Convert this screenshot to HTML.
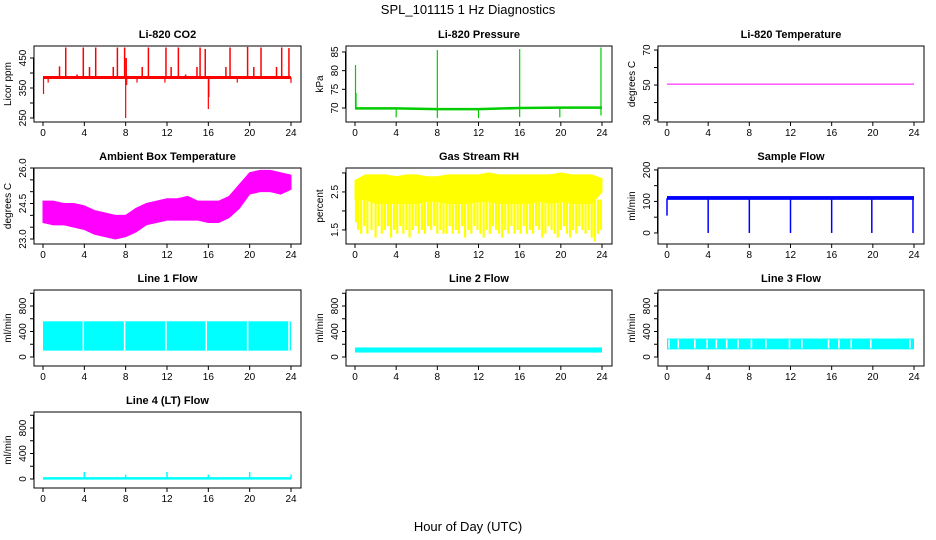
<!DOCTYPE html>
<html><head><meta charset="utf-8"><style>
body{margin:0;background:#fff;}
svg{display:block;font-family:"Liberation Sans",sans-serif;}
</style></head><body>
<svg id="chart" width="936" height="540" viewBox="0 0 936 540" xmlns="http://www.w3.org/2000/svg">
<rect width="936" height="540" fill="#fff"/>
<text x="468" y="14" font-size="13" text-anchor="middle">SPL_101115  1 Hz Diagnostics</text>
<text x="468" y="531" font-size="13" text-anchor="middle">Hour of Day (UTC)</text>
</svg>
<script>
// ---- data ----
const xTicks = [0,4,8,12,16,20,24];
const hours = [0,1,2,3,4,5,6,7,8,9,10,11,12,13,14,15,16,17,18,19,20,21,22,23,24];
// CO2
const co2BaseLow = 380, co2BaseHigh = 390;
const co2SpikeTimes = [2.2,3.9,5.1,7.2,7.9,10.2,11.9,13.1,15.2,15.7,18.1,19.8,21.1,23.1,23.8];
const co2SpikeVals = [485,485,485,485,485,485,485,485,485,480,485,487,485,485,483];
const co2SmallTimes = [1.6,4.5,6.8,8.05,9.6,12.4,14.9,17.7,20.4,22.6,0.1,3.3,13.8];
const co2SmallVals = [422,420,420,450,420,420,420,420,420,420,390,395,395];
const co2DipTimes = [0.05,0.5,8.0,8.1,9.1,11.8,16.0,16.05,18.8,24.0];
const co2DipVals = [330,368,250,360,368,368,280,320,368,367];
// Pressure
const presBaseTimes = [0,4,8,12,16,20,24];
const presBaseVals = [69.9,69.9,69.7,69.7,70.0,70.1,70.1];
const presUpTimes = [0.05,0.1,8.0,16.0,23.9];
const presUpVals = [81.5,74,85.5,85.8,86.2];
const presDownTimes = [4.0,8.0,12.0,16.0,19.9,23.9];
const presDownVals = [67.5,67.3,67.3,67.6,67.5,68];
// Li-820 temperature
const liTempVal = 50.5;
// Ambient box temperature (hourly envelope)
const ambLow = [23.7,23.6,23.6,23.5,23.4,23.2,23.1,23.0,23.1,23.3,23.6,23.7,23.8,23.8,23.8,23.8,23.7,23.7,23.9,24.3,24.9,25.0,25.0,24.9,25.1];
const ambHigh = [24.6,24.6,24.5,24.5,24.4,24.2,24.1,24.0,24.0,24.3,24.5,24.6,24.7,24.7,24.8,24.6,24.6,24.6,24.8,25.3,25.8,25.9,25.9,25.8,25.7];
// Gas stream RH
const rhHigh = [2.8,2.95,2.95,2.95,2.9,2.95,2.95,2.9,2.9,2.95,2.95,2.95,2.95,3.0,2.95,2.95,2.95,2.95,2.95,2.95,3.0,2.95,2.95,2.95,2.85];
const rhLow = [2.3,2.3,2.2,2.2,2.2,2.2,2.2,2.25,2.25,2.2,2.2,2.2,2.25,2.25,2.2,2.2,2.2,2.2,2.25,2.2,2.25,2.2,2.2,2.2,2.5];
const rhDipTimes = [0.1,0.3,0.6,0.9,1.2,1.6,2.0,2.3,2.6,2.9,3.2,3.5,3.8,4.1,4.4,4.7,5.0,5.3,5.6,5.9,6.2,6.5,6.8,7.1,7.4,7.7,8.0,8.3,8.6,8.9,9.2,9.5,9.8,10.1,10.4,10.7,11.0,11.3,11.6,11.9,12.2,12.5,12.8,13.1,13.4,13.7,14.0,14.3,14.6,14.9,15.2,15.5,15.8,16.1,16.4,16.7,17.0,17.3,17.6,17.9,18.2,18.5,18.8,19.1,19.4,19.7,20.0,20.3,20.6,20.9,21.2,21.5,21.8,22.1,22.4,22.7,23.0,23.3,23.6,23.9];
const rhDipVals = [1.7,1.5,1.4,1.6,1.4,1.5,1.3,1.6,1.4,1.5,1.6,1.3,1.5,1.4,1.6,1.4,1.5,1.3,1.5,1.6,1.4,1.5,1.4,1.6,1.5,1.6,1.4,1.5,1.4,1.4,1.6,1.4,1.5,1.4,1.6,1.3,1.5,1.4,1.6,1.5,1.4,1.3,1.5,1.4,1.6,1.5,1.4,1.3,1.5,1.4,1.6,1.4,1.5,1.4,1.6,1.4,1.5,1.4,1.6,1.5,1.3,1.4,1.6,1.5,1.4,1.3,1.5,1.6,1.4,1.3,1.5,1.4,1.6,1.5,1.4,1.5,1.3,1.2,1.4,1.5];
// Sample flow
const sfLow = 105, sfHigh = 117;
const sfDipTimes = [0.0,4.0,8.0,12.0,16.0,19.9,23.9];
const sfDipVals = [55,0,0,0,0,0,0];
// Line flows
const l1Low = 100, l1High = 560;
const l1GapTimes = [3.9,7.9,11.9,15.8,19.8,23.8];
const l2Low = 70, l2High = 150;
const l3Low = 120, l3High = 290;
const l3GapTimes = [0.2,1.1,2.7,3.9,4.8,5.8,6.9,8.2,9.6,11.9,13.1,15.7,16.7,17.9,19.8,23.6];
const l4Base = 10;
const l4SpikeTimes = [4,8,12,16,20,24];
const l4SpikeVals = [110,70,110,70,110,70];

// ---- layout ----
const SVGNS = "http://www.w3.org/2000/svg";
const svg = document.getElementById('chart');
const colL = [34,346,658], colR = [301,612,924];
function mk(tag, attrs, parent){
  const e = document.createElementNS(SVGNS, tag);
  for (const k in attrs) e.setAttribute(k, attrs[k]);
  (parent||svg).appendChild(e); return e;
}
function panel(row, col, title, ylab, ymin, ymax, yTicks, yLabels, name){
  const L = colL[col], R = colR[col], T = 46 + 122*row, B = T + 76;
  const g = mk('g', {});
  
  
  const x = h => (L+9) + h/24*((R-10)-(L+9));
  const y = v => B - (v-ymin)/(ymax-ymin)*(B-T);
  const t = mk('text', {x:(L+R)/2, y:T-8, 'font-size':11, 'font-weight':'bold', 'text-anchor':'middle'}, g);
  t.textContent = title;
  
  
  const plot = mk('g', {}, g);
  
  
  const frame = mk('rect', {x:L, y:T, width:R-L, height:B-T, fill:'none', stroke:'#000', 'stroke-width':1}, g);
  
  
  const xa = mk('g', {}, g);
  
  
  xTicks.forEach(h => {
    mk('line', {x1:x(h), x2:x(h), y1:B, y2:B+4, stroke:'#000'}, xa);
    const tx = mk('text', {x:x(h), y:B+14, 'font-size':10, 'text-anchor':'middle'}, xa);
    tx.textContent = h;
  });
  const ya = mk('g', {}, g);
  
  
  mk('line', {x1:L-0.5, x2:L-0.5, y1:y(yTicks[0]), y2:y(yTicks[yTicks.length-1]), stroke:'#000'}, ya);
  yTicks.forEach((v,i) => {
    mk('line', {x1:L-4, x2:L, y1:y(v), y2:y(v), stroke:'#000'}, ya);
    if (yLabels[i] !== '') {
      const tx = mk('text', {x:0, y:0, 'font-size':10, 'text-anchor':'middle', transform:`translate(${L-8},${y(v)}) rotate(-90)`}, ya);
      tx.textContent = yLabels[i];
    }
  });
  const yt = mk('text', {x:0, y:0, 'font-size':10, 'text-anchor':'middle', transform:`translate(${L-23},${(T+B)/2}) rotate(-90)`}, g);
  yt.textContent = ylab;
  
  
  return {x, y, g:plot};
}
function band(p, lowArr, highArr, color){
  let pts = hours.map((h,i)=>`${p.x(h)},${p.y(highArr[i])}`);
  pts = pts.concat(hours.slice().reverse().map(h=>`${p.x(h)},${p.y(lowArr[hours.indexOf(h)])}`));
  mk('polygon', {points:pts.join(' '), fill:color, stroke:color, 'stroke-width':1}, p.g);
}
function flatBand(p, lo, hi, color){
  mk('rect', {x:p.x(0), y:p.y(hi), width:p.x(24)-p.x(0), height:p.y(lo)-p.y(hi), fill:color}, p.g);
}
function vlines(p, times, vals, base, color, w){
  times.forEach((t,i)=> mk('line', {x1:p.x(t), x2:p.x(t), y1:p.y(base), y2:p.y(vals[i]), stroke:color, 'stroke-width':w||1.5}, p.g));
}

let p = panel(0,0,'Li-820 CO2','Licor ppm',236.7,490,[250,300,350,400,450],['250','','350','','450'],'co2');
flatBand(p, co2BaseLow, co2BaseHigh, '#ff0000');
vlines(p, co2SpikeTimes, co2SpikeVals, 385, '#ff0000', 1.5);
vlines(p, co2SmallTimes, co2SmallVals, 385, '#ff0000', 1.5);
vlines(p, co2DipTimes, co2DipVals, 385, '#ff0000', 1.2);

p = panel(0,1,'Li-820 Pressure','kPa',66.25,86.6,[70,75,80,85],['70','75','80','85'],'pressure');
mk('polyline', {points:presBaseTimes.map((t,i)=>`${p.x(t)},${p.y(presBaseVals[i])}`).join(' '), fill:'none', stroke:'#00cc00', 'stroke-width':2.5}, p.g);
vlines(p, presUpTimes, presUpVals, 69.9, '#00cc00', 1.2);
vlines(p, presDownTimes, presDownVals, 69.9, '#00cc00', 1.2);

p = panel(0,2,'Li-820 Temperature','degrees C',28.9,72.3,[30,40,50,60,70],['30','','50','','70'],'li820-temp');
mk('line', {x1:p.x(0), x2:p.x(24), y1:p.y(liTempVal), y2:p.y(liTempVal), stroke:'#ff00ff', 'stroke-width':1}, p.g);

p = panel(1,0,'Ambient Box Temperature','degrees C',22.79,26.0,[23.0,23.5,24.0,24.5,25.0,25.5,26.0],['23.0','','','24.5','','','26.0'],'ambient-temp');
band(p, ambLow, ambHigh, '#ff00ff');

p = panel(1,1,'Gas Stream RH','percent',1.13,3.13,[1.5,2.0,2.5,3.0],['1.5','','2.5',''],'gas-rh');
band(p, rhLow, rhHigh, '#ffff00');
vlines(p, rhDipTimes, rhDipVals, 2.3, '#ffff00', 2.2);

p = panel(1,2,'Sample Flow','ml/min',-35,206,[0,50,100,150,200],['0','','100','','200'],'sample-flow');
flatBand(p, sfLow, sfHigh, '#0000ff');
vlines(p, sfDipTimes, sfDipVals, 110, '#0000ff', 1.5);

const flowTicks = [0,200,400,600,800,1000], flowLabels = ['0','','400','','800',''];
p = panel(2,0,'Line 1 Flow','ml/min',-141,1051,flowTicks,flowLabels,'line1-flow');
flatBand(p, l1Low, l1High, '#00ffff');
l1GapTimes.forEach(t=> mk('line',{x1:p.x(t),x2:p.x(t),y1:p.y(l1High),y2:p.y(l1Low),stroke:'#fff','stroke-width':1.5},p.g));
p = panel(2,1,'Line 2 Flow','ml/min',-141,1051,flowTicks,flowLabels,'line2-flow');
flatBand(p, l2Low, l2High, '#00ffff');
p = panel(2,2,'Line 3 Flow','ml/min',-141,1051,flowTicks,flowLabels,'line3-flow');
flatBand(p, l3Low, l3High, '#00ffff');
l3GapTimes.forEach(t=> mk('line',{x1:p.x(t),x2:p.x(t),y1:p.y(l3High-15),y2:p.y(l3Low+15),stroke:'#fff','stroke-width':1.6},p.g));
p = panel(3,0,'Line 4 (LT) Flow','ml/min',-141,1051,flowTicks,flowLabels,'line4-flow');
mk('line',{x1:p.x(0),x2:p.x(24),y1:p.y(l4Base),y2:p.y(l4Base),stroke:'#00ffff','stroke-width':2.5},p.g);
vlines(p, l4SpikeTimes, l4SpikeVals, l4Base, '#00ffff', 1.5);
</script>
</body></html>
